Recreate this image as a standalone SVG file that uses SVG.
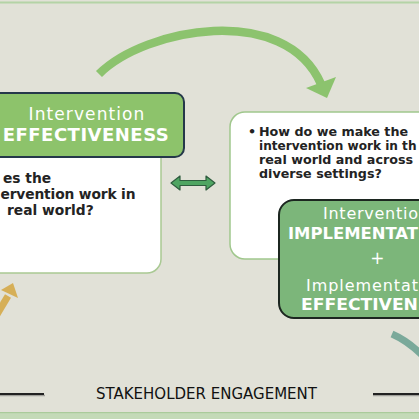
<svg xmlns="http://www.w3.org/2000/svg" width="419" height="419" viewBox="0 0 419 419">
  <style>
    .reg { font-family: "DejaVu Sans", sans-serif; fill: #ffffff; font-size: 17px; letter-spacing: 1.1px; }
    .hb { font-family: "DejaVu Sans", sans-serif; fill: #ffffff; font-size: 18px; font-weight: bold; letter-spacing: 0.5px; }
    .reg2 { font-family: "DejaVu Sans", sans-serif; fill: #ffffff; font-size: 16px; }
    .hb2 { font-family: "DejaVu Sans", sans-serif; fill: #ffffff; font-size: 16.5px; font-weight: bold; }
    .q { font-family: "DejaVu Sans", sans-serif; fill: #232323; font-weight: bold; }
    .lbl { font-family: "DejaVu Sans", sans-serif; fill: #111111; font-size: 15px; }
  </style>
  <rect x="0" y="0" width="419" height="419" fill="#e1e1d7"/>
  <rect x="0" y="1.5" width="419" height="2" fill="#b4d3a6"/>
  <rect x="0" y="412" width="419" height="7" fill="#c4dab8"/>
  <rect x="0" y="412" width="419" height="1.2" fill="#aacb9b"/>

  <g id="connectors">
    <path d="M 99 74 C 145 28, 285 2, 321 84" fill="none" stroke="#8cc36e" stroke-width="8.5"/>
    <polygon points="306,88 336,77 327,98" fill="#8cc36e"/>
    <polygon points="171,183 180,176 180,180.5 206,180.5 206,176 215,183 206,190 206,185.5 180,185.5 180,190" fill="#4fa562" stroke="#2f5d3f" stroke-width="1.2" stroke-linejoin="round"/>
    <path d="M 8 296 L -4 316" stroke="#d6af57" stroke-width="7" fill="none"/>
    <polygon points="13,283 18,298 1,290" fill="#d6af57"/>
    <path d="M 392 334 Q 408 341 423 356" fill="none" stroke="#7aa99a" stroke-width="7"/>
  </g>

  <g id="left-box">
    <rect x="-20" y="140" width="181" height="133" rx="14" fill="#ffffff" stroke="#a9c993" stroke-width="1.5"/>
    <text class="q" font-size="13.8" x="3" y="183">es the</text>
    <text class="q" font-size="13.8" x="0.5" y="199" textLength="135" lengthAdjust="spacing">ervention work in</text>
    <text class="q" font-size="13.8" x="7" y="215">real world?</text>
  </g>

  <g id="left-header">
    <rect x="-20" y="93" width="204" height="64" rx="9" fill="#8dc36b" stroke="#25384a" stroke-width="2"/>
    <text class="reg" x="87" y="120" text-anchor="middle">Intervention</text>
    <text class="hb" x="86" y="141" text-anchor="middle">EFFECTIVENESS</text>
  </g>

  <g id="right-box">
    <rect x="230" y="112" width="220" height="147" rx="15" fill="#ffffff" stroke="#a0c78d" stroke-width="1.5"/>
    <text class="q" font-size="12.7" x="248" y="136">•</text>
    <text class="q" font-size="12.7" x="259" y="136">How do we make the</text>
    <text class="q" font-size="12.1" x="259" y="150">intervention work in th</text>
    <text class="q" font-size="12.7" x="259" y="164">real world and across</text>
    <text class="q" font-size="12.7" x="259" y="178">diverse settings?</text>
  </g>

  <g id="right-green-box">
    <rect x="279" y="200" width="220" height="118" rx="15" fill="#7cb67a" stroke="#1c2620" stroke-width="2"/>
    <text class="reg2" x="323" y="218.5" textLength="95" lengthAdjust="spacing">Interventio</text>
    <text class="hb2" x="288" y="238.5" textLength="130" lengthAdjust="spacingAndGlyphs">IMPLEMENTAT</text>
    <text class="reg" x="378" y="264" text-anchor="middle" font-size="20">+</text>
    <text class="reg2" x="306" y="290.5" textLength="112" lengthAdjust="spacing">Implementat</text>
    <text class="hb2" x="301" y="310" textLength="117" lengthAdjust="spacingAndGlyphs">EFFECTIVEN</text>
  </g>

  <g id="stakeholder">
    <line x1="0" y1="395.5" x2="45" y2="395.5" stroke="#a0a09a" stroke-width="1.5"/>
    <line x1="373" y1="395.5" x2="419" y2="395.5" stroke="#a0a09a" stroke-width="1.5"/>
    <line x1="0" y1="394" x2="44" y2="394" stroke="#222222" stroke-width="1.8"/>
    <line x1="373" y1="394" x2="419" y2="394" stroke="#222222" stroke-width="1.8"/>
    <text class="lbl" x="206.5" y="399" text-anchor="middle">STAKEHOLDER ENGAGEMENT</text>
  </g>
</svg>
